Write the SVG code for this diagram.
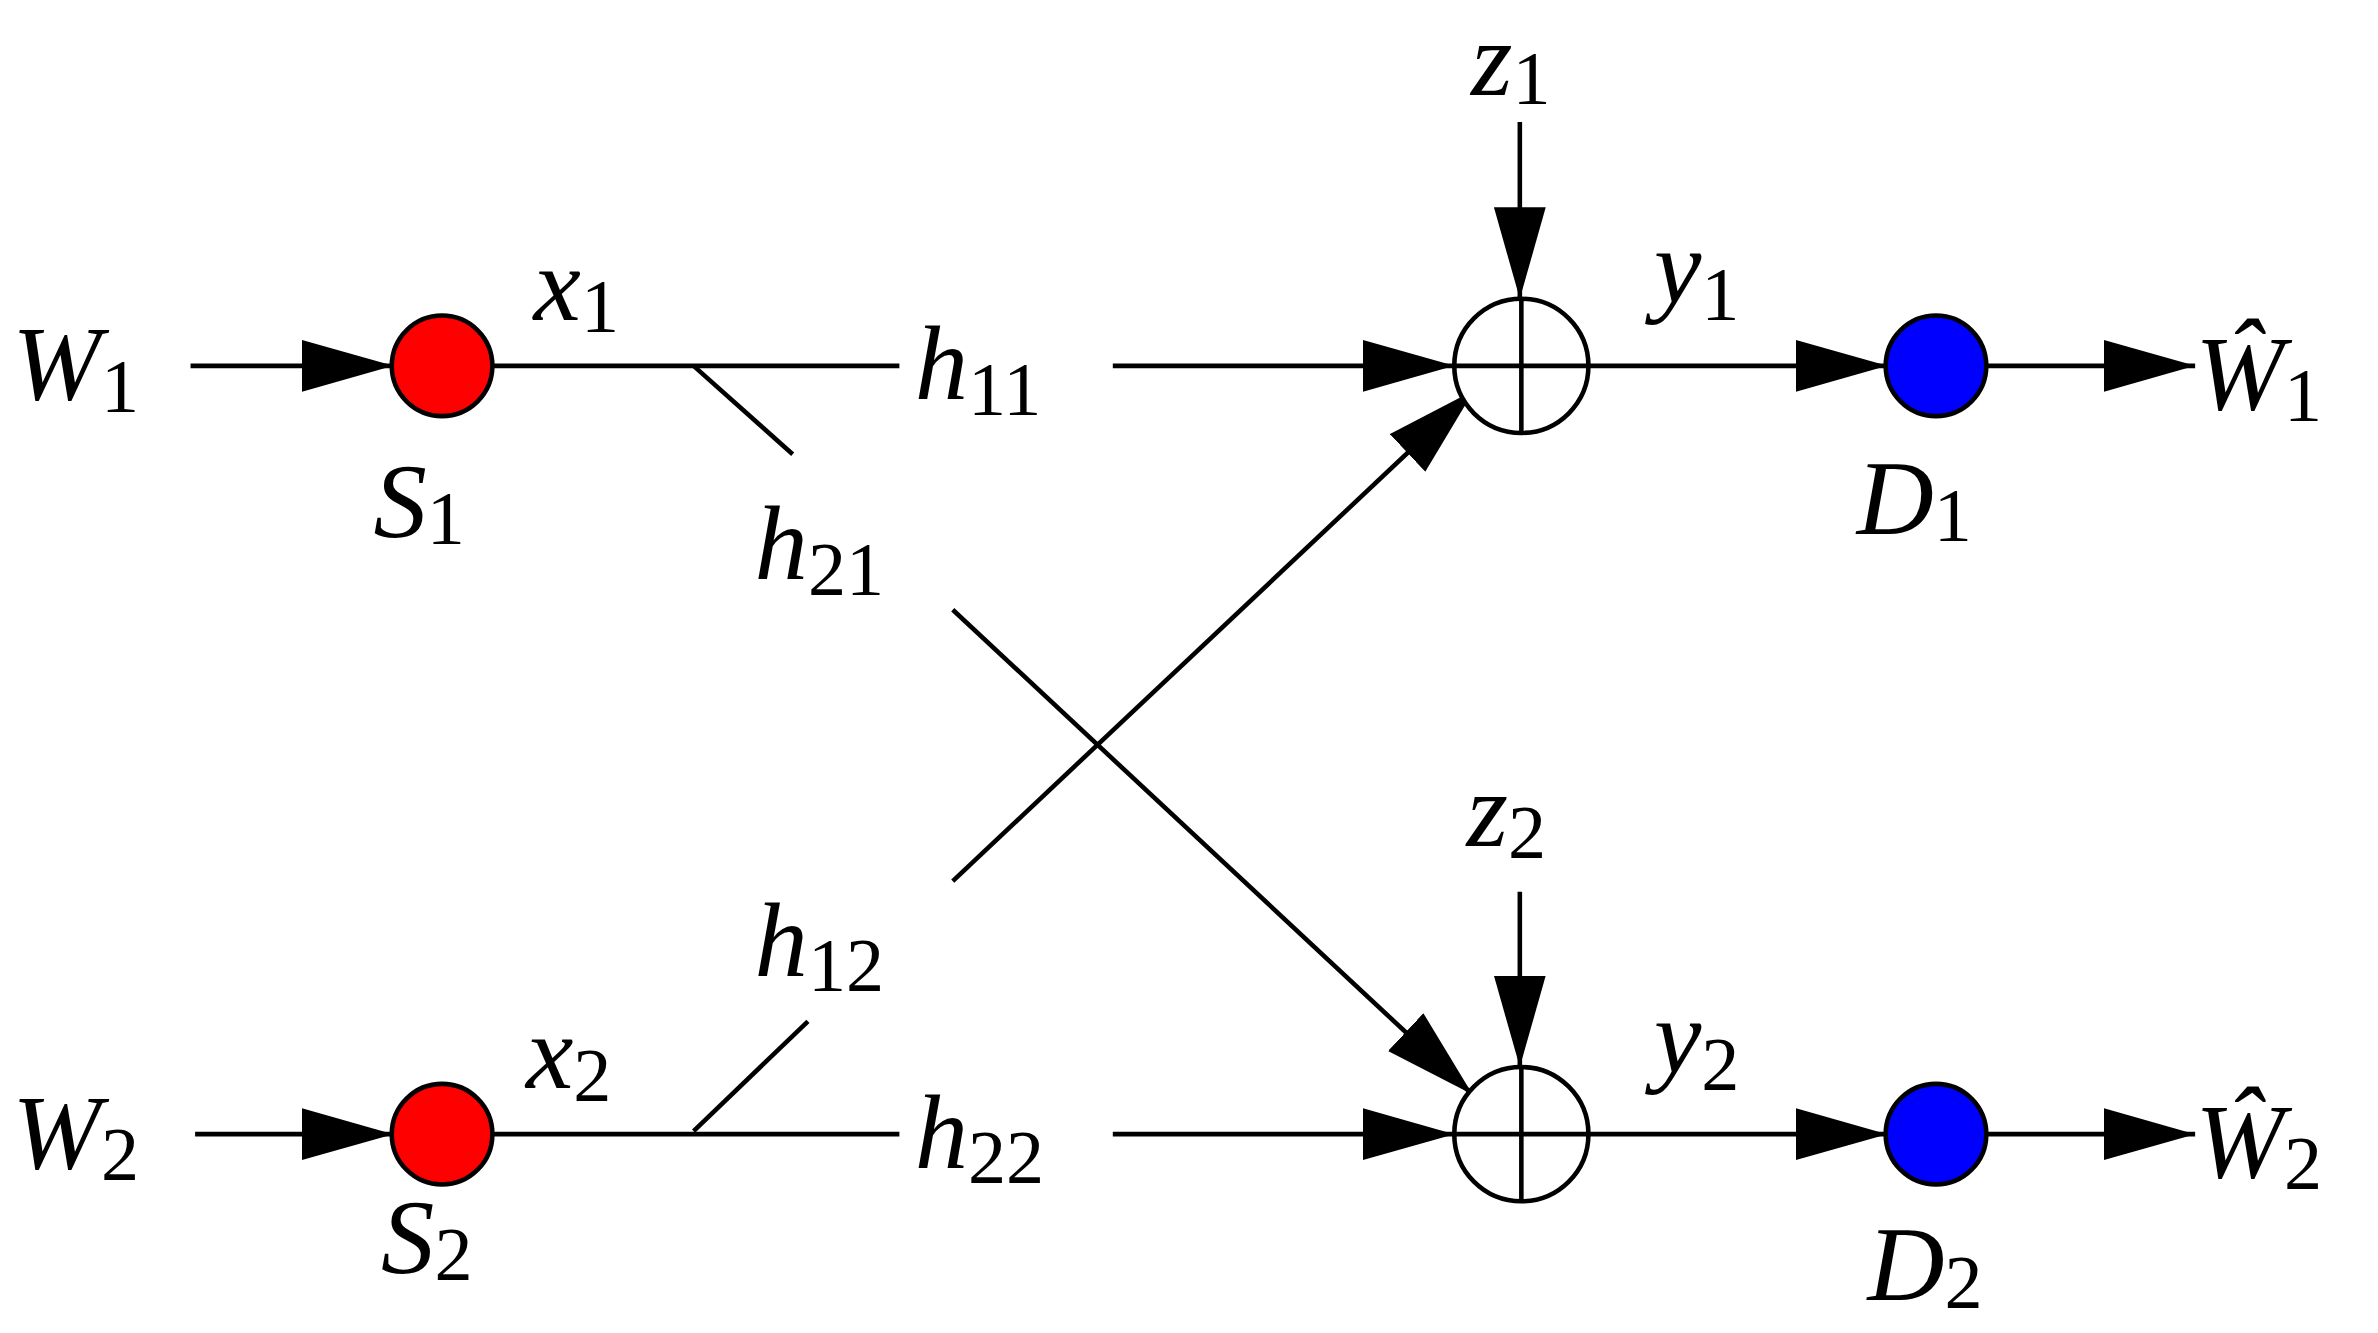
<svg xmlns="http://www.w3.org/2000/svg" width="2378" height="1333" viewBox="0 0 2378 1333">
<style>
.l{stroke:#000;stroke-width:3;fill:none}
.a{stroke:#000;stroke-width:3;fill:none;marker-end:url(#ah)}
.t{font-family:"Liberation Serif",serif;font-style:italic;font-size:70px;fill:#000}
.s{font-family:"Liberation Serif",serif;font-size:50px;font-style:normal}
.src{fill:#f00;stroke:#000;stroke-width:3}
.dst{fill:#00f;stroke:#000;stroke-width:3}
.sum{fill:#fff;stroke:#000;stroke-width:3}
</style>
<defs>
<marker id="ah" markerUnits="userSpaceOnUse" markerWidth="62" markerHeight="36" refX="60" refY="17" orient="auto"><path d="M0,0 L60,17 L0,34 z" fill="#000"/></marker>
</defs>
<rect width="2378" height="1333" fill="#fff"/>
<g transform="scale(1.5244)">
<g id="connectors">
<line class="a" x1="125" y1="240" x2="258" y2="240"/>
<line class="l" x1="323" y1="240" x2="590" y2="240"/>
<line class="l" x1="455" y1="240" x2="520" y2="298"/>
<line class="a" x1="730" y1="240" x2="954" y2="240"/>
<line class="a" x1="997" y1="80" x2="997" y2="196"/>
<line class="a" x1="1042" y1="240" x2="1238" y2="240"/>
<line class="a" x1="1303" y1="240" x2="1440" y2="240"/>
<line class="a" x1="625" y1="400" x2="966" y2="718"/>
<line class="l" x1="455" y1="742" x2="530" y2="670"/>
<line class="a" x1="625" y1="578" x2="967" y2="256"/>
<line class="a" x1="128" y1="744" x2="258" y2="744"/>
<line class="l" x1="323" y1="744" x2="590" y2="744"/>
<line class="a" x1="730" y1="744" x2="954" y2="744"/>
<line class="a" x1="997" y1="585" x2="997" y2="700"/>
<line class="a" x1="1042" y1="744" x2="1238" y2="744"/>
<line class="a" x1="1303" y1="744" x2="1440" y2="744"/>
</g>
<g id="S1"><circle class="src" cx="290" cy="240" r="33"/><text class="t" x="245" y="352">S<tspan class="s" dy="5">1</tspan></text></g>
<g id="S2"><circle class="src" cx="290" cy="744" r="33"/><text class="t" x="250" y="835">S<tspan class="s" dy="5">2</tspan></text></g>
<g id="sum1"><circle class="sum" cx="998" cy="240" r="44"/><line class="l" x1="954" y1="240" x2="1042" y2="240"/><line class="l" x1="998" y1="196" x2="998" y2="284"/></g>
<g id="sum2"><circle class="sum" cx="998" cy="744" r="44"/><line class="l" x1="954" y1="744" x2="1042" y2="744"/><line class="l" x1="998" y1="700" x2="998" y2="788"/></g>
<g id="D1"><circle class="dst" cx="1270" cy="240" r="33"/><text class="t" x="1218" y="350">D<tspan class="s" dy="5">1</tspan></text></g>
<g id="D2"><circle class="dst" cx="1270" cy="744" r="33"/><text class="t" x="1225" y="853">D<tspan class="s" dy="5">2</tspan></text></g>
<g id="labels">
<text class="t" x="8" y="262">W<tspan class="s" dy="8">1</tspan></text>
<text class="t" x="8" y="766">W<tspan class="s" dy="8">2</tspan></text>
<text class="t" x="350" y="210">x<tspan class="s" dy="8">1</tspan></text>
<text class="t" x="345" y="714">x<tspan class="s" dy="8">2</tspan></text>
<text class="t" x="600" y="262">h<tspan class="s" dy="10">11</tspan></text>
<text class="t" x="600" y="766">h<tspan class="s" dy="10">22</tspan></text>
<text class="t" x="495" y="380">h<tspan class="s" dy="10">21</tspan></text>
<text class="t" x="495" y="640">h<tspan class="s" dy="10">12</tspan></text>
<text class="t" x="965" y="62">z<tspan class="s" dy="6">1</tspan></text>
<text class="t" x="962" y="555">z<tspan class="s" dy="8">2</tspan></text>
<text class="t" x="1085" y="198">y<tspan class="s" dy="12">1</tspan></text>
<text class="t" x="1085" y="703">y<tspan class="s" dy="12">2</tspan></text>
<text class="t" x="1440" y="268">Ŵ<tspan class="s" dy="8">1</tspan></text>
<text class="t" x="1440" y="772">Ŵ<tspan class="s" dy="8">2</tspan></text>
</g>
</g>
</svg>
